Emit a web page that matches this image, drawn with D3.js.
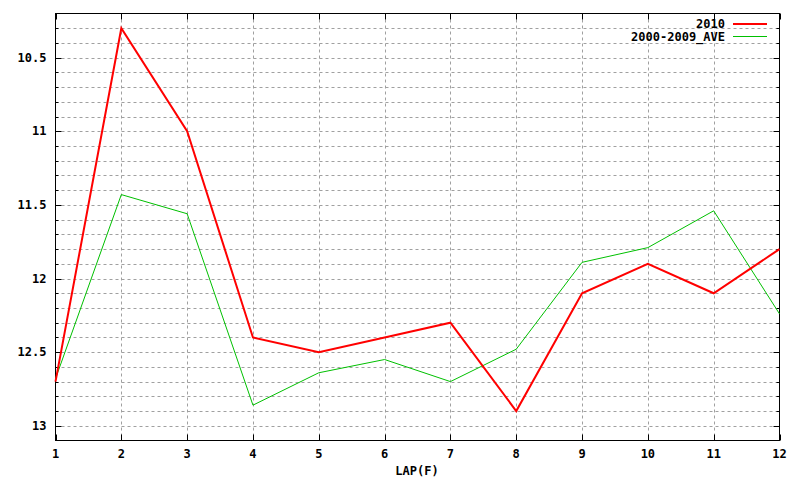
<!DOCTYPE html>
<html><head><meta charset="utf-8">
<script src="https://cdn.jsdelivr.net/npm/d3@7"></script>
<style>
body{margin:0;background:#fff;}
text{font-family:"DejaVu Sans Mono",monospace;font-weight:bold;font-size:12px;fill:#000;}
</style></head>
<body><svg id="c" width="800" height="480"></svg>
<script>
const laps = [1,2,3,4,5,6,7,8,9,10,11,12];
const series2010 = [12.70,10.30,11.00,12.40,12.50,12.40,12.30,12.90,12.10,11.90,12.10,11.80];
const seriesAve = [12.68,11.43,11.56,12.86,12.64,12.55,12.70,12.48,11.89,11.79,11.54,12.24];
const yTicks = [10.5,11,11.5,12,12.5,13];
const yMinor = d3.range(10.3,13.05,0.1).map(v=>+v.toFixed(1));
const seriesNames = ["2010","2000-2009_AVE"];
const xLabel = "LAP(F)";

const L=55.5,R=779.5,T=13.5,B=440.5;
const svg=d3.select("#c");
const x=d3.scaleLinear().domain([1,12]).range([L,R]);
const y=d3.scaleLinear().domain([10.2,13.1]).range([T,B]);
const g=svg.append("g");
// grid
g.selectAll(".hg").data(yMinor).enter().append("line")
 .attr("x1",L).attr("x2",R).attr("y1",d=>Math.round(y(d))+0.5).attr("y2",d=>Math.round(y(d))+0.5)
 .attr("stroke","#a0a0a0").attr("stroke-dasharray","3,3");
g.selectAll(".vg").data(laps.slice(1,-1)).enter().append("line")
 .attr("y1",T).attr("y2",B).attr("x1",d=>Math.round(x(d))+0.5).attr("x2",d=>Math.round(x(d))+0.5)
 .attr("stroke","#a0a0a0").attr("stroke-dasharray","3,3");
// ticks
yMinor.forEach(v=>{
  const major=yTicks.includes(v);
  const len=major?6:3; const yy=Math.round(y(v))+0.5;
  g.append("line").attr("x1",L).attr("x2",L+len).attr("y1",yy).attr("y2",yy).attr("stroke","#000");
  g.append("line").attr("x1",R).attr("x2",R-len).attr("y1",yy).attr("y2",yy).attr("stroke","#000");
});
laps.forEach(v=>{
  const xx=Math.round(x(v))+0.5;
  g.append("line").attr("x1",xx).attr("x2",xx).attr("y1",B).attr("y2",B-6).attr("stroke","#000");
  g.append("line").attr("x1",xx).attr("x2",xx).attr("y1",T).attr("y2",T+6).attr("stroke","#000");
});
// border
g.append("rect").attr("x",L).attr("y",T).attr("width",R-L).attr("height",B-T)
 .attr("fill","none").attr("stroke","#000");
// tick labels
g.selectAll(".yl").data(yTicks).enter().append("text")
 .attr("x",L-9).attr("y",d=>y(d)).attr("dy","0.35em").attr("text-anchor","end").text(d=>d);
g.selectAll(".xl").data(laps).enter().append("text")
 .attr("x",d=>x(d)).attr("y",454).attr("dy","0.35em").attr("text-anchor","middle").text(d=>d);
g.append("text").attr("x",417).attr("y",471).attr("dy","0.35em").attr("text-anchor","middle").text(xLabel);
// lines
const line=d3.line().x((d,i)=>x(laps[i])).y(d=>y(d));
g.append("path").datum(seriesAve).attr("d",line).attr("fill","none").attr("stroke","#00c000").attr("stroke-width",1);
g.append("path").datum(series2010).attr("d",line).attr("fill","none").attr("stroke","#ff0000").attr("stroke-width",2);
// legend
const leg=[{n:seriesNames[0],c:"#ff0000",w:2,yy:24},{n:seriesNames[1],c:"#00c000",w:1,yy:36.5}];
leg.forEach(l=>{
  g.append("text").attr("x",725).attr("y",l.yy).attr("dy","0.35em").attr("text-anchor","end").text(l.n);
  g.append("line").attr("x1",733).attr("x2",767).attr("y1",l.yy).attr("y2",l.yy).attr("stroke",l.c).attr("stroke-width",l.w);
});
</script></body></html>
